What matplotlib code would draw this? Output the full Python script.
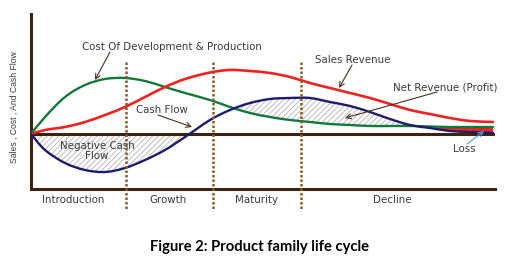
"""
Product family life cycle - sales, cost and cash flow curves
"""
import matplotlib
matplotlib.use('Agg')
import matplotlib.pyplot as plt
from matplotlib.path import Path
from matplotlib.patches import PathPatch
import numpy as np

# time axis (arbitrary units)
t = [0, 14, 34, 54, 74, 94, 114, 134, 154, 179, 199, 219,
     239, 259, 279, 299, 319, 339, 359, 379, 399, 419, 439, 462]

cost = [0, 17, 37, 49, 55, 56, 53, 47, 41, 34, 27, 21,
        17, 14, 12, 10, 9, 8, 8, 8, 7.5, 7, 7, 7]
sales = [0, 4, 7, 12, 19, 27, 37, 47, 55, 61.5, 64, 63,
         61, 57, 51, 46, 41, 36, 30, 24, 20, 16, 13, 12]
cash_flow = [0, -16, -29, -36, -38, -34, -26, -16, -3, 14, 24, 31,
             35, 36, 36, 32, 28, 22, 15, 9, 6, 3, 2, 1]

phase_edges = [95, 182, 270]
phase_names = ['Introduction', 'Growth', 'Maturity', 'Decline']
phase_label_x = [42, 137, 226, 361]

BROWN = '#3b2314'
DOT = '#8b5a2b'
TXT = '#3a3a3a'

t_arr = np.array(t)
cost_arr = np.array(cost)
cf_arr = np.array(cash_flow)


def smooth_path(xs, ys):
    # Catmull-Rom through the read points, drawn as cubic bezier segments
    pts = np.column_stack([xs, ys]).astype(float)
    n = len(pts)
    verts = [pts[0]]
    codes = [Path.MOVETO]
    for i in range(n - 1):
        p0 = pts[max(i - 1, 0)]
        p1 = pts[i]
        p2 = pts[i + 1]
        p3 = pts[min(i + 2, n - 1)]
        verts += [p1 + (p2 - p0) / 6, p2 - (p3 - p1) / 6, p2]
        codes += [Path.CURVE4] * 3
    return Path(verts, codes)


fig = plt.figure(figsize=(5.14, 2.63), dpi=100)
ax = fig.add_axes([31 / 514, 74 / 263, 464 / 514, 175 / 263])
ax.set_xlim(0, 464)
ax.set_ylim(-55, 120)

plt.rcParams['hatch.linewidth'] = 0.6

# hatched areas
ax.fill_between(t_arr, cf_arr, 0, where=cf_arr < 0, interpolate=True,
                facecolor='none', edgecolor='#b5b5b5', hatch='//////', linewidth=0)
ax.fill_between(t_arr, cf_arr, cost_arr, where=cf_arr > cost_arr, interpolate=True,
                facecolor='none', edgecolor='#b5b5b5', hatch='//////', linewidth=0)
# loss band
ax.fill_between(t_arr, cf_arr, cost_arr, where=(cf_arr < cost_arr) & (t_arr > 400),
                interpolate=True, facecolor='#ee2222', linewidth=0)

# curves
for ys, col, lw in [(cost, '#13793b', 1.7), (sales, '#ee2222', 1.9),
                    (cash_flow, '#1c1c6b', 1.7)]:
    ax.add_patch(PathPatch(smooth_path(t, ys), facecolor='none', edgecolor=col,
                           lw=lw, capstyle='round', zorder=3))

# zero line and frame
ax.axhline(0, color=BROWN, lw=2.2, zorder=2)
for s in ['top', 'right']:
    ax.spines[s].set_visible(False)
for s in ['left', 'bottom']:
    ax.spines[s].set_color(BROWN)
    ax.spines[s].set_linewidth(2.2)
ax.set_xticks([])
ax.set_yticks([])

# phase separators
for xe in phase_edges:
    ax.plot([xe, xe], [72, -76], color=DOT, lw=1.8, ls=(0, (1, 0.8)),
            clip_on=False, zorder=5)

for name, xl in zip(phase_names, phase_label_x):
    ax.text(xl, -66, name, ha='center', va='center', fontsize=7.4,
            color=TXT, clip_on=False)

# annotations
def label(x, y, s, **kw):
    ax.text(x - 31, 134 - y, s, ha='center', va='center', fontsize=7.4,
            color=TXT, **kw)

def arrow(x0, y0, x1, y1, color='#4a3020', ls='-'):
    ax.annotate('', xy=(x1 - 31, 134 - y1), xytext=(x0 - 31, 134 - y0),
                arrowprops=dict(arrowstyle='->', color=color, lw=0.8, ls=ls,
                                shrinkA=0, shrinkB=0,
                                mutation_scale=9))

label(172, 47, 'Cost Of Development & Production')
arrow(110, 52, 95, 80)
label(353, 60, 'Sales Revenue')
arrow(352, 65, 339, 88)
label(445, 87, 'Net Revenue (Profit)')
arrow(437, 92, 345, 118)
label(162, 110, 'Cash Flow')
arrow(158, 115, 192, 127)
label(97, 151, 'Negative Cash\nFlow', linespacing=1.0)
label(464, 149, 'Loss')
arrow(467, 144, 484, 131, color='#4a9fd8')

fig.text(14 / 514, 1 - 107 / 263, 'Sales , Cost , And Cash Flow', rotation=90,
         ha='center', va='center', fontsize=6.2, color=TXT,
         family='Liberation Sans')

fig.text(259 / 514, 1 - 247 / 263, 'Figure 2: Product family life cycle',
         ha='center', va='center', fontsize=10.6, fontweight='bold',
         family='Lato', color='black')

fig.savefig('out.png', dpi=100, facecolor='white')
plt.close(fig)
